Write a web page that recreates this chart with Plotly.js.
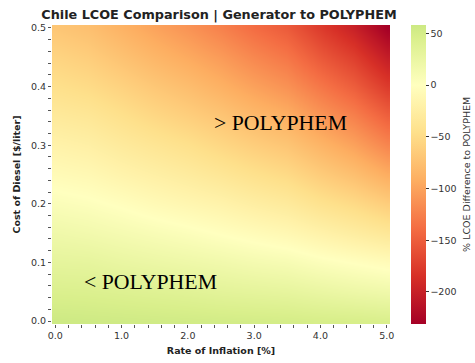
<!DOCTYPE html>
<html>
<head>
<meta charset="utf-8">
<script src="https://cdn.plot.ly/plotly-3.0.1.min.js"></script>
<style>
  html, body { margin: 0; padding: 0; background: #fff; }
  #chart { width: 475px; height: 363px; }
</style>
</head>
<body>
<div id="chart"></div>
<script>
// Rate of inflation [%] (columns)
const inflation = [0.0, 0.5, 1.0, 1.5, 2.0, 2.5, 3.0, 3.5, 4.0, 4.5, 5.0];
// Cost of diesel [$/liter] (rows)
const diesel = [0.00, 0.05, 0.10, 0.15, 0.20, 0.25, 0.30, 0.35, 0.40, 0.45, 0.50];
// % LCOE difference to POLYPHEM, one row per diesel cost
const row000 = [57, 56, 55, 54, 53, 52, 51, 50, 48, 47, 45];
const row005 = [44, 43, 41, 39, 37, 34, 32, 30, 26, 22, 19];
const row010 = [31, 30, 26, 23, 20, 17, 13, 10, 4, -1, -6];
const row015 = [19, 16, 12, 8, 4, -1, -6, -11, -19, -27, -35];
const row020 = [6, 3, -2, -8, -13, -18, -25, -31, -42, -51, -63];
const row025 = [-7, -10, -17, -23, -29, -36, -44, -51, -64, -76, -92];
const row030 = [-19, -23, -31, -38, -45, -54, -63, -71, -86, -101, -121];
const row035 = [-32, -36, -45, -54, -62, -71, -82, -91, -109, -125, -148];
const row040 = [-45, -50, -59, -69, -78, -89, -101, -112, -131, -150, -176];
const row045 = [-57, -63, -74, -85, -95, -106, -120, -132, -154, -174, -203];
const row050 = [-70, -76, -88, -100, -111, -124, -139, -152, -176, -199, -231];

const zRows = [row000, row005, row010, row015, row020, row025, row030, row035, row040, row045, row050];

const cbTicks = [50, 0, -50, -100, -150, -200];
const cbTitle = "% LCOE Difference to POLYPHEM";
const chartTitle = "Chile LCOE Comparison | Generator to POLYPHEM";
const labelAbove = "&gt; POLYPHEM";
const labelBelow = "&lt; POLYPHEM";

// RdYlGn, centered at 0 (seaborn style), truncated at the data range
const colorscale = [
  [0.000, '#a50026'],
  [0.160, '#d73027'],
  [0.320, '#f46d43'],
  [0.480, '#fdae61'],
  [0.640, '#fee08b'],
  [0.799, '#ffffbf'],
  [0.959, '#d9ef8b'],
  [1.000, '#cce983']
];

const trace = {
  type: 'heatmap',
  x: inflation,
  y: diesel,
  z: zRows,
  zmin: -231,
  zmax: 58,
  zauto: false,
  zsmooth: 'best',
  colorscale: colorscale,
  hoverinfo: 'skip',
  colorbar: {
    x: 1.062, xanchor: 'left', xpad: 0,
    y: 0.5, yanchor: 'middle', ypad: 0,
    len: 1.0, lenmode: 'fraction',
    thickness: 15,
    outlinewidth: 0,
    ticks: 'outside', ticklen: 3, tickwidth: 1, tickcolor: '#333',
    tickvals: cbTicks,
    tickfont: {family: 'DejaVu Sans', size: 9.5, color: '#333'}
  }
};

const layout = {
  width: 475, height: 363,
  margin: {l: 52, r: 85, t: 25, b: 39},
  paper_bgcolor: '#fff', plot_bgcolor: '#fff',
  title: {
    text: '<b>' + chartTitle + '</b>',
    x: 0.461, xanchor: 'center', y: 0.961, yanchor: 'middle',
    font: {family: 'DejaVu Sans', size: 12.8, color: '#222'}
  },
  xaxis: {
    range: [-0.05, 5.05],
    tickvals: [0, 1, 2, 3, 4, 5],
    tickformat: '.1f',
    ticks: 'outside', ticklen: 3, tickwidth: 1, tickcolor: '#555',
    minor: {dtick: 0.2, tick0: 0, ticks: 'outside', ticklen: 3, tickwidth: 1, tickcolor: '#555'},
    showgrid: false, zeroline: false, showline: false,
    tickfont: {family: 'DejaVu Sans', size: 9.5, color: '#333'},
    title: {text: '<b>Rate of Inflation [%]</b>', standoff: 6, font: {family: 'DejaVu Sans', size: 9.5, color: '#222'}}
  },
  yaxis: {
    range: [-0.005, 0.505],
    tickvals: [0, 0.1, 0.2, 0.3, 0.4, 0.5],
    tickformat: '.1f',
    ticks: 'outside', ticklen: 3, tickwidth: 1, tickcolor: '#555',
    minor: {dtick: 0.02, tick0: 0, ticks: 'outside', ticklen: 3, tickwidth: 1, tickcolor: '#555'},
    showgrid: false, zeroline: false, showline: false,
    tickfont: {family: 'DejaVu Sans', size: 9.5, color: '#333'},
    title: {text: '<b>Cost of Diesel [$/liter]</b>', standoff: 8, font: {family: 'DejaVu Sans', size: 9.5, color: '#222'}}
  },
  annotations: [
    {x: 2.36, y: 0.337, xref: 'x', yref: 'y', xanchor: 'left', yanchor: 'middle',
     text: labelAbove, showarrow: false,
     font: {family: 'Liberation Serif', size: 21.8, color: '#000'}},
    {x: 0.41, y: 0.066, xref: 'x', yref: 'y', xanchor: 'left', yanchor: 'middle',
     text: labelBelow, showarrow: false,
     font: {family: 'Liberation Serif', size: 21.8, color: '#000'}},
    {x: 1.226, y: 0.5, xref: 'paper', yref: 'paper', xanchor: 'center', yanchor: 'middle',
     textangle: -90, text: cbTitle, showarrow: false,
     font: {family: 'DejaVu Sans', size: 9.5, color: '#333'}}
  ]
};

Plotly.newPlot('chart', [trace], layout, {displayModeBar: false, staticPlot: true});
</script>
</body>
</html>
